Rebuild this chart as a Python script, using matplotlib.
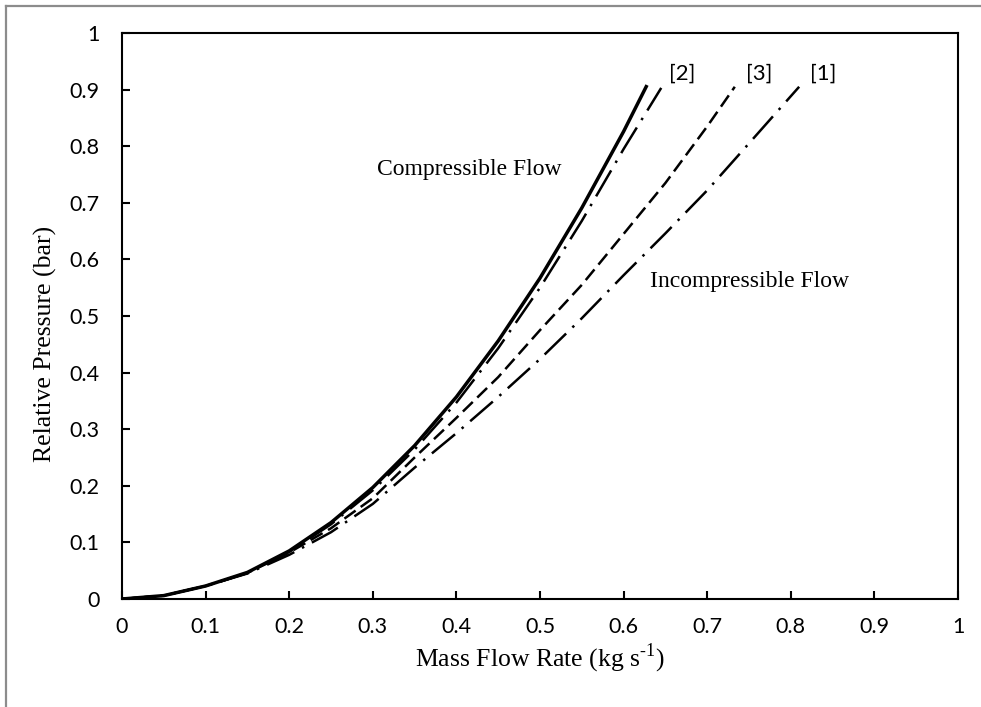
# Pressure drop vs mass flow rate - compressible / incompressible flow

import numpy as np
import matplotlib
matplotlib.use('Agg')
import matplotlib.pyplot as plt
from matplotlib.lines import Line2D

plt.rcParams['mathtext.fontset'] = 'custom'
plt.rcParams['mathtext.rm'] = 'Liberation Serif'

# Data
# compressible flow (solid)
x_comp = [0, 0.05, 0.1, 0.15, 0.2, 0.25, 0.3, 0.35, 0.4, 0.45, 0.5, 0.55, 0.6, 0.628]
y_comp = [0, 0.006, 0.023, 0.047, 0.085, 0.135, 0.197, 0.271, 0.357, 0.456, 0.567, 0.691, 0.826, 0.908]

# [2] long dash dot
x_ref2 = [0, 0.05, 0.1, 0.15, 0.2, 0.25, 0.3, 0.35, 0.4, 0.45, 0.5, 0.55, 0.6, 0.645]
y_ref2 = [0, 0.006, 0.023, 0.046, 0.083, 0.132, 0.192, 0.264, 0.347, 0.443, 0.55, 0.668, 0.795, 0.903]

# [3] short dash
x_ref3 = [0, 0.05, 0.1, 0.15, 0.2, 0.25, 0.3, 0.35, 0.4, 0.45, 0.5, 0.55, 0.6, 0.65, 0.7, 0.733]
y_ref3 = [0, 0.006, 0.023, 0.046, 0.082, 0.125, 0.178, 0.25, 0.32, 0.392, 0.475, 0.555, 0.645, 0.735, 0.835, 0.905]

# [1] dash dot
x_ref1 = [0, 0.05, 0.1, 0.15, 0.2, 0.25, 0.3, 0.35, 0.4, 0.45, 0.5, 0.55, 0.6, 0.65, 0.7, 0.75, 0.81]
y_ref1 = [0, 0.006, 0.023, 0.045, 0.078, 0.118, 0.168, 0.232, 0.293, 0.357, 0.424, 0.496, 0.572, 0.646, 0.722, 0.805, 0.905]

ticks = [0, 0.1, 0.2, 0.3, 0.4, 0.5, 0.6, 0.7, 0.8, 0.9, 1]
tick_labels = ['0', '0.1', '0.2', '0.3', '0.4', '0.5', '0.6', '0.7', '0.8', '0.9', '1']

fig = plt.figure(figsize=(9.81, 7.07), dpi=100)
ax = fig.add_axes([122/981, 108/707, 836/981, 566/707])

ax.plot(x_comp, y_comp, color='black', lw=2.5, solid_capstyle='butt')
ax.plot(x_ref2, y_ref2, color='black', lw=1.8, linestyle=(0, (12, 3.5, 1, 3.5)))
ax.plot(x_ref3, y_ref3, color='black', lw=1.8, linestyle=(0, (5.5, 2.5)))
ax.plot(x_ref1, y_ref1, color='black', lw=1.8, linestyle=(0, (12, 3.5, 1, 3.5)))

ax.set_xlim(0, 1)
ax.set_ylim(0, 1)
ax.set_xticks(ticks)
ax.set_yticks(ticks)
ax.set_xticklabels(tick_labels, fontname='Lato', fontsize=15.5)
ax.set_yticklabels(tick_labels, fontname='Lato', fontsize=15.5)
ax.tick_params(direction='in', length=6, width=1.5, pad=13)
ax.tick_params(axis='y', pad=16)
for s in ax.spines.values():
    s.set_linewidth(1.5)

ax.set_xlabel('Mass Flow Rate (kg s$^{\\mathregular{\u20101}}$)', fontname='Liberation Serif', fontsize=18.5, labelpad=3)
ax.set_ylabel('Relative Pressure (bar)', fontname='Liberation Serif', fontsize=18.5)
ax.yaxis.set_label_coords(-0.078, 0.45)

# annotations
ax.text(0.305, 0.749, 'Compressible Flow', fontname='Liberation Serif', fontsize=17)
ax.text(0.632, 0.551, 'Incompressible Flow', fontname='Liberation Serif', fontsize=17)
ax.text(0.654, 0.929, '[2]', fontname='Lato', fontsize=16, va='center')
ax.text(0.746, 0.929, '[3]', fontname='Lato', fontsize=16, va='center')
ax.text(0.823, 0.929, '[1]', fontname='Lato', fontsize=16, va='center')

# grey chart-area border (top and left only visible)
fig.add_artist(Line2D([6/981, 1], [1 - 6/707, 1 - 6/707], color='#8c8c8c', lw=1.6, transform=fig.transFigure))
fig.add_artist(Line2D([6/981, 6/981], [0, 1 - 6/707], color='#8c8c8c', lw=1.6, transform=fig.transFigure))

fig.savefig('out.png', dpi=100)
